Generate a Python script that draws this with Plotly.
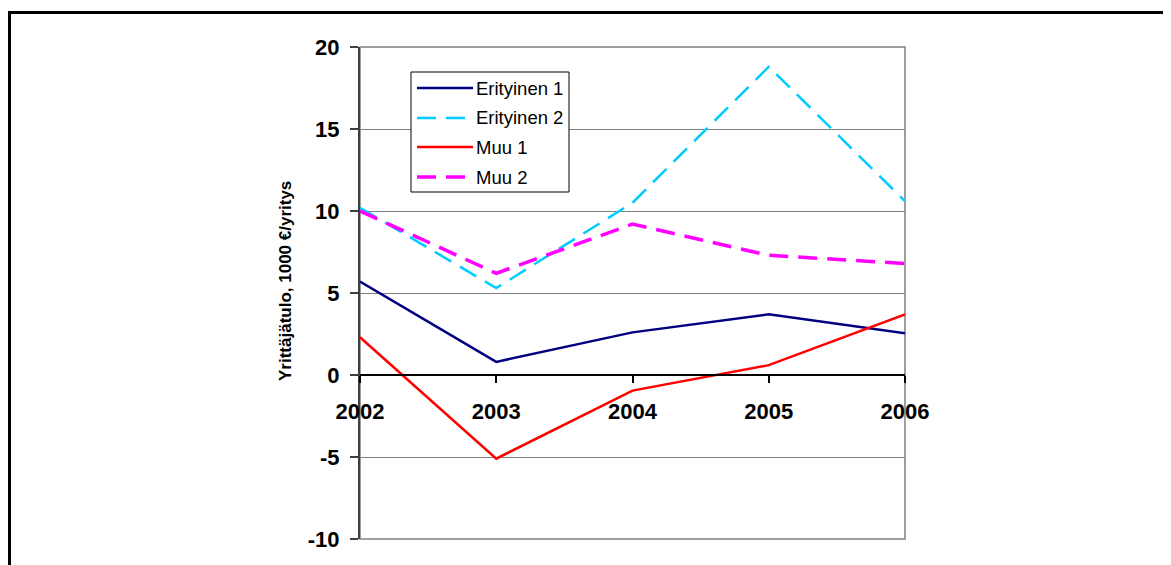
import plotly.graph_objects as go

years = [2002, 2003, 2004, 2005, 2006]
year_labels = ["2002", "2003", "2004", "2005", "2006"]
series_names = ["Erityinen 1", "Erityinen 2", "Muu 1", "Muu 2"]
erityinen1 = [5.7, 0.8, 2.6, 3.7, 2.55]
erityinen2 = [10.2, 5.3, 10.5, 18.8, 10.6]
muu1 = [2.3, -5.1, -0.95, 0.6, 3.7]
muu2 = [10.0, 6.2, 9.2, 7.3, 6.8]
y_ticks = [-10, -5, 0, 5, 10, 15, 20]
y_tick_labels = ["-10", "-5", "0", "5", "10", "15", "20"]
y_title = "Yrittäjätulo, 1000 €/yritys"

values = [erityinen1, erityinen2, muu1, muu2]
colors = ["#000080", "#00CCFF", "#FF0000", "#FF00FF"]
dashes = ["solid", "19px,10px", "solid", "19px,10px"]
widths = [2.5, 2.5, 2.5, 3.5]

OFF = 8  # page body margin
W, H = 1171 - OFF, 565 - OFF
# plot area bounds in page pixels
L, R, T, B = 360, 905, 47, 539


def px(x):
    return (x - L) / (R - L)


def py(y):
    return (B - y) / (B - T)


fig = go.Figure()
for name, vals, c, d, w in zip(series_names, values, colors, dashes, widths):
    fig.add_trace(go.Scatter(x=years, y=vals, mode="lines", name=name,
                             line=dict(color=c, dash=d, width=w),
                             showlegend=False))

shapes = []
# outer chart border (extends beyond right/bottom of the view)
shapes.append(dict(type="rect", xref="paper", yref="paper",
                   x0=px(9.5), x1=px(1200), y0=py(600), y1=py(12.5),
                   line=dict(color="black", width=3)))
# plot area border
shapes.append(dict(type="rect", xref="paper", yref="paper",
                   x0=0, x1=1, y0=0, y1=1,
                   line=dict(color="#808080", width=1.5), layer="below"))
# legend box
lx0, lx1, ly0, ly1 = 411, 569, 72, 192
shapes.append(dict(type="rect", xref="paper", yref="paper",
                   x0=px(lx0), x1=px(lx1), y0=py(ly1), y1=py(ly0),
                   line=dict(color="black", width=1), fillcolor="white"))
annotations = []
item_y = [88, 118, 147, 177]
for name, c, d, w, iy in zip(series_names, colors, dashes, widths, item_y):
    shapes.append(dict(type="line", xref="paper", yref="paper",
                       x0=px(417), x1=px(473), y0=py(iy), y1=py(iy),
                       line=dict(color=c, dash=d, width=w)))
    annotations.append(dict(xref="paper", yref="paper", x=px(474), y=py(iy),
                            text=name, showarrow=False, xanchor="left",
                            yanchor="middle",
                            font=dict(family="Liberation Sans, Arial", size=18.5,
                                      color="black")))
# y-axis title
annotations.append(dict(xref="paper", yref="paper", x=px(285), y=py(281),
                        text=y_title, showarrow=False, textangle=-90,
                        xanchor="center", yanchor="middle",
                        font=dict(family="Liberation Sans, Arial", size=17,
                                  color="black", weight="bold")))

fig.update_layout(
    width=W, height=H,
    margin=dict(l=L - OFF, r=1171 - R, t=T - OFF, b=565 - B, pad=0),
    paper_bgcolor="white", plot_bgcolor="white",
    shapes=shapes, annotations=annotations,
    font=dict(family="Liberation Sans, Arial", color="black"),
    xaxis=dict(
        range=[2002, 2006], tickvals=years, ticktext=year_labels,
        anchor="free", position=1 / 3, showgrid=False, zeroline=False,
        showline=True, linecolor="black", linewidth=1.5,
        ticks="outside", ticklen=7, tickcolor="black", tickwidth=1.5,
        ticklabelstandoff=10,
        tickfont=dict(size=22, weight="bold", family="Liberation Sans, Arial"),
    ),
    yaxis=dict(
        range=[-10, 20], tickvals=y_ticks, ticktext=y_tick_labels,
        showgrid=True, gridcolor="#808080", gridwidth=1, zeroline=False,
        showline=True, linecolor="#404040", linewidth=2,
        ticks="outside", ticklen=8, tickcolor="#404040", tickwidth=1.5,
        ticklabelstandoff=6,
        tickfont=dict(size=22, weight="bold", family="Liberation Sans, Arial"),
    ),
)

fig.write_html("out.html")
